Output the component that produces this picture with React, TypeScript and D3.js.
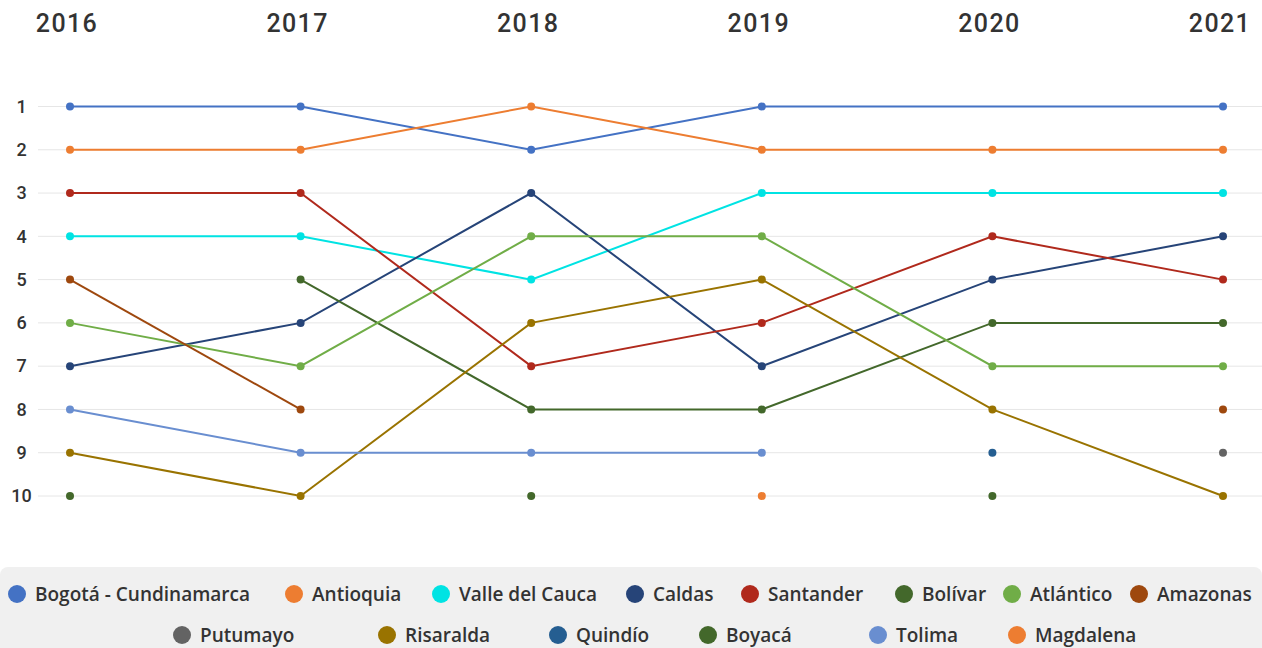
import * as d3 from 'd3';

// years (x categories) and rank ticks (y)
const years = ['2016', '2017', '2018', '2019', '2020', '2021'];
const rankTicks = [1, 2, 3, 4, 5, 6, 7, 8, 9, 10];

// rank per year, null = not in the top 10 that year
const bogota = [1, 1, 2, 1, null, 1];
const antioquia = [2, 2, 1, 2, 2, 2];
const valle = [4, 4, 5, 3, 3, 3];
const caldas = [7, 6, 3, 7, 5, 4];
const santander = [3, 3, 7, 6, 4, 5];
const bolivar = [null, 5, 8, 8, 6, 6];
const atlantico = [6, 7, 4, 4, 7, 7];
const amazonas = [5, 8, null, null, null, 8];
const putumayo = [null, null, null, null, null, 9];
const risaralda = [9, 10, 6, 5, 8, 10];
const quindio = [null, null, null, null, 9, null];
const boyaca = [10, null, 10, null, 10, null];
const tolima = [8, 9, 9, 9, null, null];
const magdalena = [null, null, null, 10, null, null];

const seriesNames = [
  'Bogotá - Cundinamarca', 'Antioquia', 'Valle del Cauca', 'Caldas', 'Santander',
  'Bolívar', 'Atlántico', 'Amazonas', 'Putumayo', 'Risaralda', 'Quindío',
  'Boyacá', 'Tolima', 'Magdalena',
];
const seriesValues = [
  bogota, antioquia, valle, caldas, santander, bolivar, atlantico, amazonas,
  putumayo, risaralda, quindio, boyaca, tolima, magdalena,
];
const seriesColors = [
  '#4472c4', '#ed7d31', '#00e3e3', '#264478', '#b0291c', '#43682b', '#70ad47',
  '#9e480e', '#636363', '#997300', '#255e91', '#43682b', '#698ed0', '#ed7d31',
];
// series whose line bridges a missing year
const connectGaps = ['Bogotá - Cundinamarca'];

// legend layout (rows + marker centre x)
const legendRow1 = [17, 294, 441, 635, 750, 904, 1012, 1139];
const legendRow2 = [182, 387, 558, 708, 878, 1017];

const W = 1262;
const H = 648;
const FONT = 'Roboto, "Noto Sans", sans-serif';
const LEGEND_FONT = '"Open Sans", Roboto, sans-serif';

export default function App() {
  const x = d3.scalePoint<string>().domain(years).range([70, 1223]);
  const y = d3.scaleLinear().domain([1, 10]).range([106.5, 496]);

  const line = d3
    .line<[string, number | null]>()
    .defined((d) => d[1] != null)
    .x((d) => x(d[0]) as number)
    .y((d) => y(d[1] as number));

  const series = seriesNames.map((name, i) => {
    const pts = years.map((yr, j) => [yr, seriesValues[i][j]] as [string, number | null]);
    return {
      name,
      color: seriesColors[i],
      pts: connectGaps.includes(name) ? pts.filter((p) => p[1] != null) : pts,
    };
  });

  const legendItems = seriesNames.map((name, i) => {
    const inRow1 = i < legendRow1.length;
    return {
      name,
      color: seriesColors[i],
      cx: inRow1 ? legendRow1[i] : legendRow2[i - legendRow1.length],
      cy: inRow1 ? 594 : 635,
    };
  });

  return (
    <svg
      width={W}
      height={H}
      style={{ position: 'absolute', left: 0, top: 0, fontFamily: FONT }}
    >
      <rect width={W} height={H} fill="#ffffff" />

      {/* year headers */}
      {years.map((yr) => (
        <text
          key={yr}
          x={(x(yr) as number) - 3}
          y={32}
          textAnchor="middle"
          fontSize={25}
          fontWeight={500}
          letterSpacing={1.4}
          fill="#333333"
        >
          {yr}
        </text>
      ))}

      {/* grid + rank labels */}
      {rankTicks.map((r) => (
        <g key={r}>
          <line x1={38} x2={W} y1={y(r)} y2={y(r)} stroke="#e6e6e6" strokeWidth={1} />
          <text
            x={21.5}
            y={y(r)}
            dy="0.35em"
            textAnchor="middle"
            fontSize={18}
            fontWeight={500}
            fill="#333333"
          >
            {r}
          </text>
        </g>
      ))}

      {/* lines */}
      {series.map((s) => (
        <path
          key={s.name}
          d={line(s.pts) ?? ''}
          fill="none"
          stroke={s.color}
          strokeWidth={2}
        />
      ))}

      {/* markers */}
      {series.map((s) =>
        s.pts
          .filter((p) => p[1] != null)
          .map((p) => (
            <circle
              key={s.name + p[0]}
              cx={x(p[0]) as number}
              cy={y(p[1] as number)}
              r={4}
              fill={s.color}
            />
          ))
      )}

      {/* legend */}
      <rect x={0} y={567} width={W} height={100} rx={8} fill="#f0f0f0" />
      {legendItems.map((d) => (
        <g key={d.name}>
          <circle cx={d.cx} cy={d.cy} r={9} fill={d.color} />
          <text
            x={d.cx + 18}
            y={d.cy}
            dy="0.36em"
            fontFamily={LEGEND_FONT}
            fontSize={19}
            fontWeight={600}
            fill="#333333"
          >
            {d.name}
          </text>
        </g>
      ))}
    </svg>
  );
}
